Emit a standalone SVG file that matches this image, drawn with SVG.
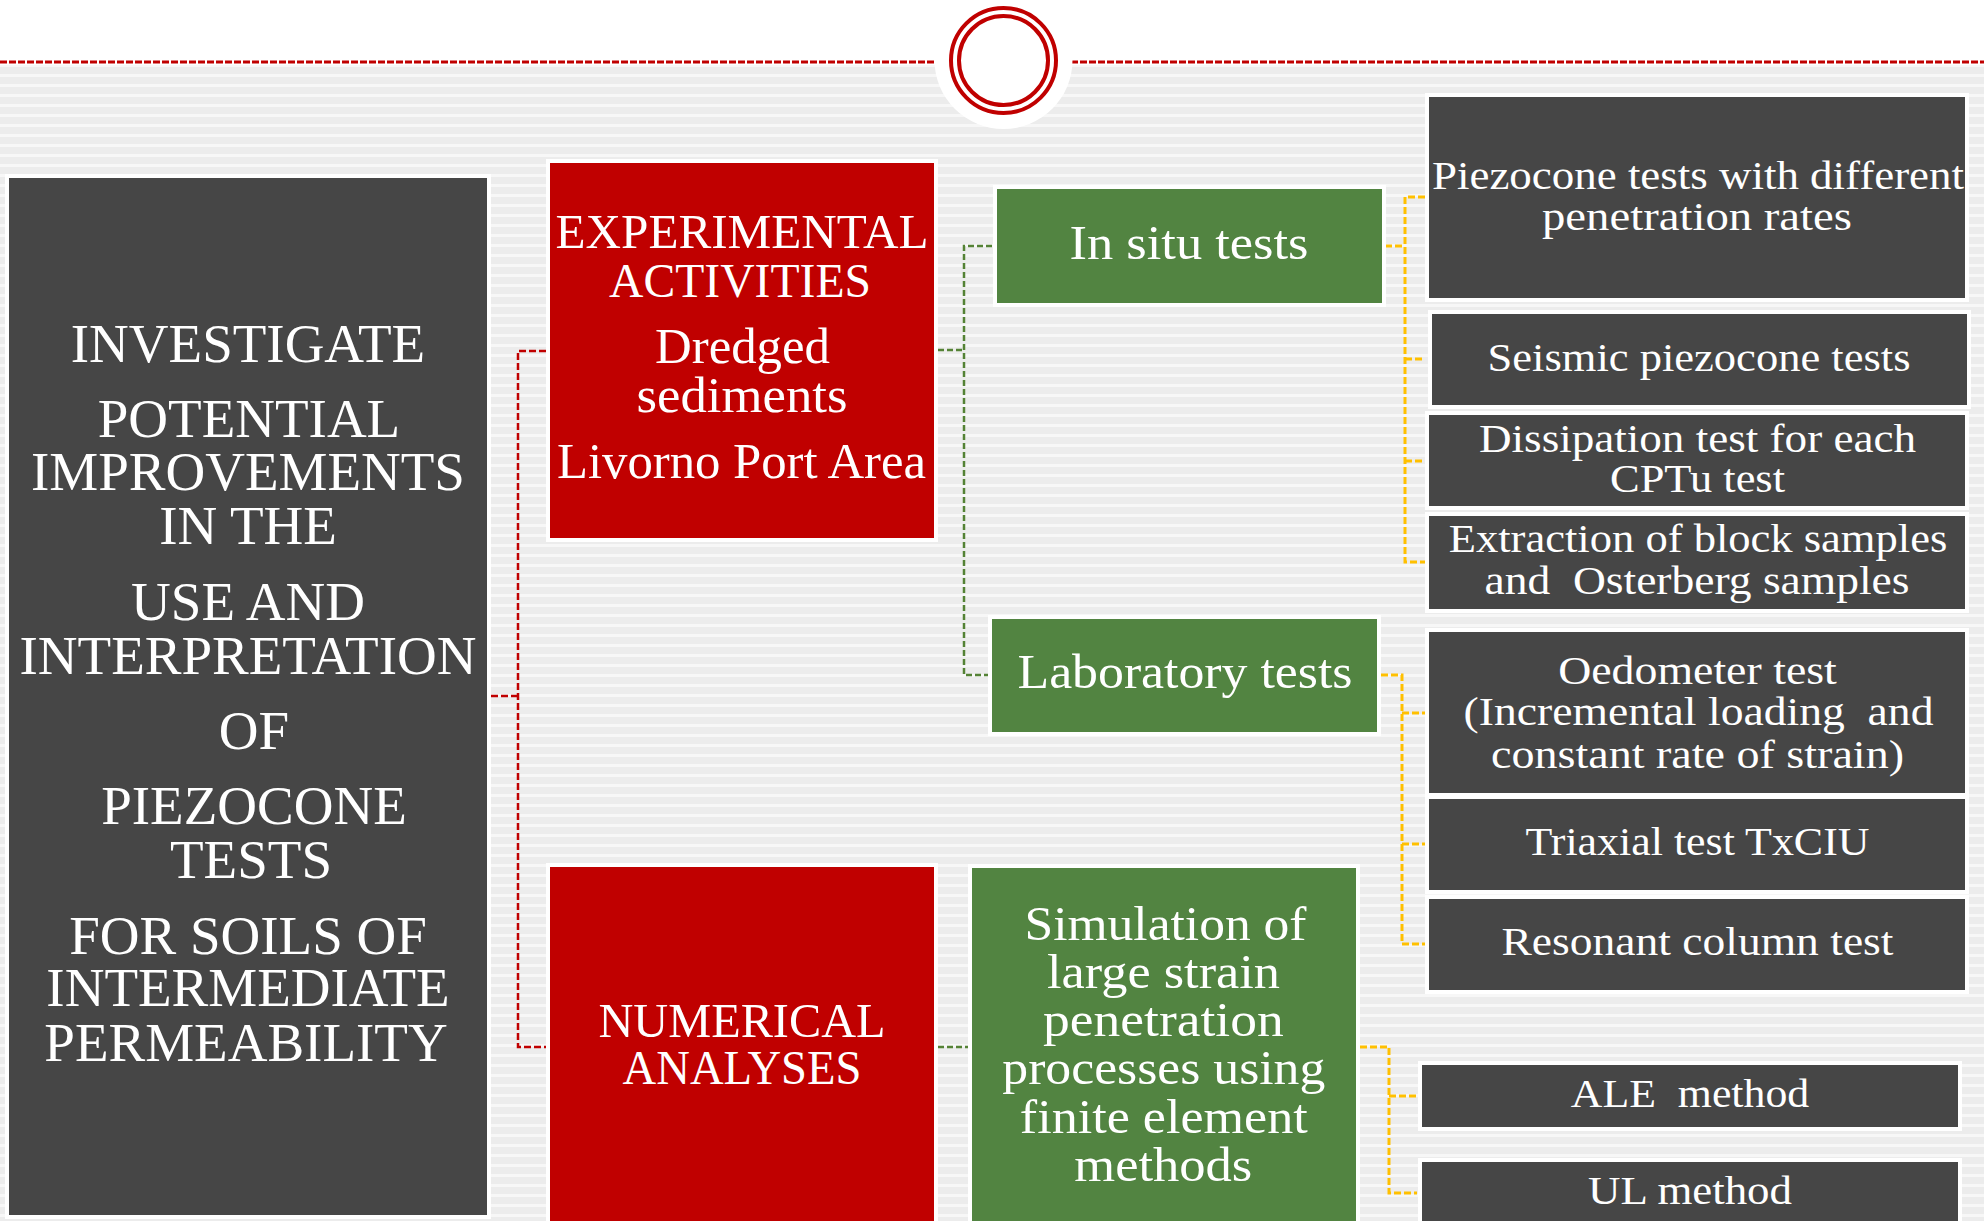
<svg xmlns="http://www.w3.org/2000/svg" width="1984" height="1221" viewBox="0 0 1984 1221">
<defs>
  <pattern id="stripes" x="0" y="64" width="10" height="10" patternUnits="userSpaceOnUse">
    <rect width="10" height="10" fill="#ececec"/>
    <rect width="10" height="3" fill="#f7f7f7"/>
  </pattern>
  <style>
    .dark{fill:#464646;stroke:#ffffff;stroke-width:8;paint-order:stroke}
    .red{fill:#c00000;stroke:#ffffff;stroke-width:8;paint-order:stroke}
    .green{fill:#528441;stroke:#ffffff;stroke-width:8;paint-order:stroke}
    .t{font-family:"Liberation Serif","Times New Roman",serif;fill:#ffffff;text-anchor:middle}
    .big{font-size:55px}
    .h48{font-size:48px}
    .h50{font-size:50px}
    .s39{font-size:39px}
    .cr{fill:none;stroke:#c00000;stroke-width:2.5;stroke-dasharray:7 3}
    .cg{fill:none;stroke:#548235;stroke-width:2.5;stroke-dasharray:6 3}
    .cy{fill:none;stroke:#ffc000;stroke-width:3;stroke-dasharray:7 3}
  </style>
</defs>

<g id="background">
  <rect width="1984" height="1221" fill="#ffffff"/>
  <rect x="0" y="64" width="1984" height="1157" fill="url(#stripes)"/>
  <line x1="0" y1="62" x2="1984" y2="62" stroke="#ffffff" stroke-width="6"/>
  <line x1="0" y1="62" x2="1984" y2="62" stroke="#c00000" stroke-width="3" stroke-dasharray="7 2"/>
  <circle cx="1003.5" cy="60" r="69" fill="#ffffff"/>
  <circle cx="1003.5" cy="60.5" r="52.5" fill="none" stroke="#c00000" stroke-width="4"/>
  <circle cx="1003.5" cy="60.5" r="44.5" fill="none" stroke="#c00000" stroke-width="4"/>
</g>

<g id="connectors">
  <path class="cr" d="M491,696 H518 M546,351 H518 V1047 H546"/>
  <path class="cg" d="M938,350 H964 M992,246 H964 V675 H988 M938,1047 H968"/>
  <path class="cy" d="M1385,246 H1405 M1425,197 H1405 V562 H1425 M1405,359 H1425 M1405,461 H1425"/>
  <path class="cy" d="M1381,675 H1402 V944 H1425 M1402,713 H1425 M1402,844 H1425"/>
  <path class="cy" d="M1360,1047 H1389 V1193 H1417 M1389,1096 H1417"/>
</g>

<g id="goal">
  <rect class="dark" x="9" y="178" width="478" height="1037"/>
  <text class="t big" x="248" y="362">INVESTIGATE</text>
  <text class="t big" x="249" y="437">POTENTIAL</text>
  <text class="t big" x="248" y="490">IMPROVEMENTS</text>
  <text class="t big" x="248" y="544">IN THE</text>
  <text class="t big" x="248" y="620">USE AND</text>
  <text class="t big" x="248" y="674">INTERPRETATION</text>
  <text class="t big" x="254" y="749">OF</text>
  <text class="t big" x="254" y="824">PIEZOCONE</text>
  <text class="t big" x="251" y="878">TESTS</text>
  <text class="t big" x="248" y="954">FOR SOILS OF</text>
  <text class="t big" x="248" y="1006">INTERMEDIATE</text>
  <text class="t big" x="246" y="1061">PERMEABILITY</text>
</g>

<g id="experimental">
  <rect class="red" x="550" y="163" width="384" height="375"/>
  <text class="t h48" x="742" y="248" textLength="373" lengthAdjust="spacingAndGlyphs">EXPERIMENTAL</text>
  <text class="t h48" x="740" y="297" textLength="262" lengthAdjust="spacingAndGlyphs">ACTIVITIES</text>
  <text class="t h50" x="742.5" y="363" textLength="175" lengthAdjust="spacingAndGlyphs">Dredged</text>
  <text class="t h50" x="742" y="412" textLength="211" lengthAdjust="spacingAndGlyphs">sediments</text>
  <text class="t h50" x="741.5" y="478" textLength="369" lengthAdjust="spacingAndGlyphs">Livorno Port Area</text>
</g>

<g id="numerical">
  <rect class="red" x="550" y="867" width="384" height="362"/>
  <text class="t h48" x="742" y="1037" textLength="287" lengthAdjust="spacingAndGlyphs">NUMERICAL</text>
  <text class="t h48" x="742" y="1084" textLength="239" lengthAdjust="spacingAndGlyphs">ANALYSES</text>
</g>

<g id="in-situ">
  <rect class="green" x="997" y="189" width="385" height="114"/>
  <text class="t h48" x="1189" y="259" textLength="239" lengthAdjust="spacingAndGlyphs">In situ tests</text>
</g>

<g id="laboratory">
  <rect class="green" x="992" y="619" width="385" height="113"/>
  <text class="t h48" x="1185" y="688" textLength="335" lengthAdjust="spacingAndGlyphs">Laboratory tests</text>
</g>

<g id="simulation">
  <rect class="green" x="972" y="868" width="384" height="361"/>
  <text class="t h48" x="1165.5" y="940" textLength="282" lengthAdjust="spacingAndGlyphs">Simulation of</text>
  <text class="t h48" x="1163.5" y="988" textLength="233" lengthAdjust="spacingAndGlyphs">large strain</text>
  <text class="t h48" x="1163.4" y="1036" textLength="240.6" lengthAdjust="spacingAndGlyphs">penetration</text>
  <text class="t h48" x="1163.8" y="1084" textLength="323" lengthAdjust="spacingAndGlyphs">processes using</text>
  <text class="t h48" x="1163.8" y="1133" textLength="288" lengthAdjust="spacingAndGlyphs">finite element</text>
  <text class="t h48" x="1163.3" y="1181" textLength="178" lengthAdjust="spacingAndGlyphs">methods</text>
</g>

<g id="piezocone">
  <rect class="dark" x="1429" y="97" width="536" height="201"/>
  <text class="t s39" x="1698" y="188.5" textLength="532" lengthAdjust="spacingAndGlyphs">Piezocone tests with different</text>
  <text class="t s39" x="1697" y="230" textLength="310" lengthAdjust="spacingAndGlyphs">penetration rates</text>
</g>

<g id="seismic">
  <rect class="dark" x="1432" y="314" width="535" height="91"/>
  <text class="t s39" x="1699" y="371" textLength="423" lengthAdjust="spacingAndGlyphs">Seismic piezocone tests</text>
</g>

<g id="dissipation">
  <rect class="dark" x="1429" y="415" width="536" height="91"/>
  <text class="t s39" x="1697.5" y="452" textLength="437" lengthAdjust="spacingAndGlyphs">Dissipation test for each</text>
  <text class="t s39" x="1697.5" y="492" textLength="175" lengthAdjust="spacingAndGlyphs">CPTu test</text>
</g>

<g id="extraction">
  <rect class="dark" x="1429" y="516" width="536" height="93"/>
  <text class="t s39" x="1698" y="552" textLength="498.5" lengthAdjust="spacingAndGlyphs">Extraction of block samples</text>
  <text class="t s39" x="1697" y="594" textLength="425" lengthAdjust="spacingAndGlyphs" xml:space="preserve">and  Osterberg samples</text>
</g>

<g id="oedometer">
  <rect class="dark" x="1429" y="632" width="536" height="161"/>
  <text class="t s39" x="1697.5" y="684" textLength="278.6" lengthAdjust="spacingAndGlyphs">Oedometer test</text>
  <text class="t s39" x="1698.5" y="725" textLength="470" lengthAdjust="spacingAndGlyphs" xml:space="preserve">(Incremental loading  and</text>
  <text class="t s39" x="1697.5" y="768" textLength="413" lengthAdjust="spacingAndGlyphs">constant rate of strain)</text>
</g>

<g id="triaxial">
  <rect class="dark" x="1429" y="799" width="536" height="91"/>
  <text class="t s39" x="1697.5" y="855" textLength="344" lengthAdjust="spacingAndGlyphs">Triaxial test TxCIU</text>
</g>

<g id="resonant">
  <rect class="dark" x="1429" y="899" width="536" height="91"/>
  <text class="t s39" x="1697.5" y="955" textLength="392" lengthAdjust="spacingAndGlyphs">Resonant column test</text>
</g>

<g id="ale">
  <rect class="dark" x="1422" y="1065" width="536" height="62"/>
  <text class="t s39" x="1690" y="1107" textLength="238.5" lengthAdjust="spacingAndGlyphs" xml:space="preserve">ALE  method</text>
</g>

<g id="ul">
  <rect class="dark" x="1422" y="1162" width="536" height="67"/>
  <text class="t s39" x="1690" y="1203.5" textLength="204" lengthAdjust="spacingAndGlyphs">UL method</text>
</g>
</svg>
